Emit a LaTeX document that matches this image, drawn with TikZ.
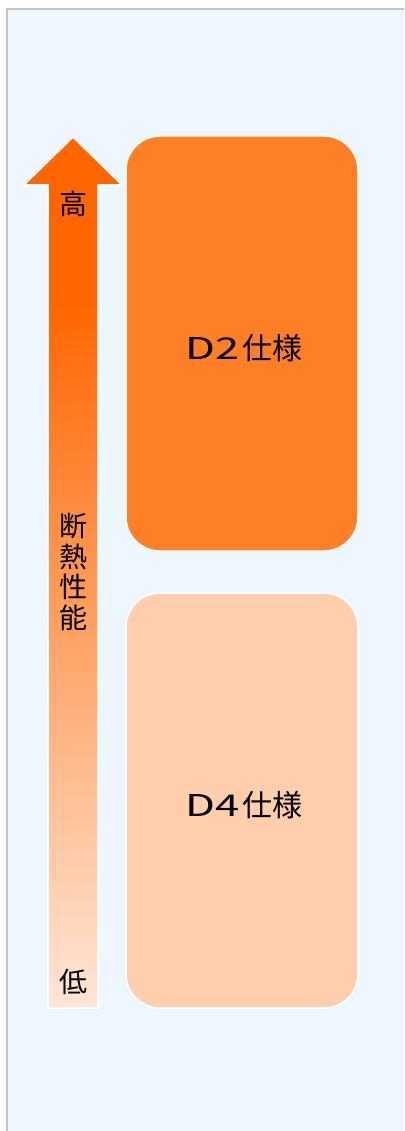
\documentclass[tikz,border=0pt]{standalone}
\usepackage{fontspec}
\setmainfont{Noto Sans CJK JP}
\definecolor{panelbg}{HTML}{EEF6FF}
\definecolor{framec}{HTML}{C4C4C4}
\definecolor{highc}{HTML}{FF6600}
\definecolor{lowc}{HTML}{FFE6D6}
\definecolor{dtwoc}{HTML}{FF7F27}
\definecolor{dfourc}{HTML}{FFCEAD}
\pgfdeclareverticalshading{arrowgrad}{100bp}{color(0bp)=(lowc); color(25bp)=(lowc); color(65.6bp)=(highc); color(100bp)=(highc)}
\newcommand{\widelatin}[1]{\scalebox{1.45}[1]{#1}\hspace{2pt}}
\tikzset{
  specbox/.style={draw=white, line width=1.5pt, rounded corners=34pt, minimum width=232pt, minimum height=415pt, inner sep=0pt},
  boxtext/.style={inner sep=0pt, font=\fontsize{30pt}{36pt}\selectfont, text=black},
  arrowlabel/.style={inner sep=0pt, font=\fontsize{28pt}{30.75pt}\selectfont, text=black, align=center}
}
\begin{document}
\begin{tikzpicture}[x=1pt,y=-1pt]
\useasboundingbox (0,0) rectangle (404,1131);
\fill[white] (0,0) rectangle (404,1131);
\fill[panelbg] (7,9) rectangle (404,1131);
\draw[framec, line width=2pt] (7,1131) -- (7,9) -- (404,9);
% arrow
\path[shading=arrowgrad, draw=white, line width=1.5pt, line join=miter]
  (73,137) -- (122,185) -- (98,185) -- (98,1008) -- (48,1008) -- (48,185) -- (24,185) -- cycle;
\node[arrowlabel] (high) at (73,204) {高};
\node[arrowlabel] (perf) at (73,572) {断\\熱\\性\\能};
\node[arrowlabel] (low) at (73,982) {低};
% boxes
\node[specbox, fill=dtwoc] (dtwo) at (242,343.5) {};
\node[boxtext] (dtwotext) at (244,348) {\widelatin{D2}仕様};
\node[specbox, fill=dfourc] (dfour) at (242,800.5) {};
\node[boxtext] (dfourtext) at (244,805) {\widelatin{D4}仕様};
\end{tikzpicture}
\end{document}
